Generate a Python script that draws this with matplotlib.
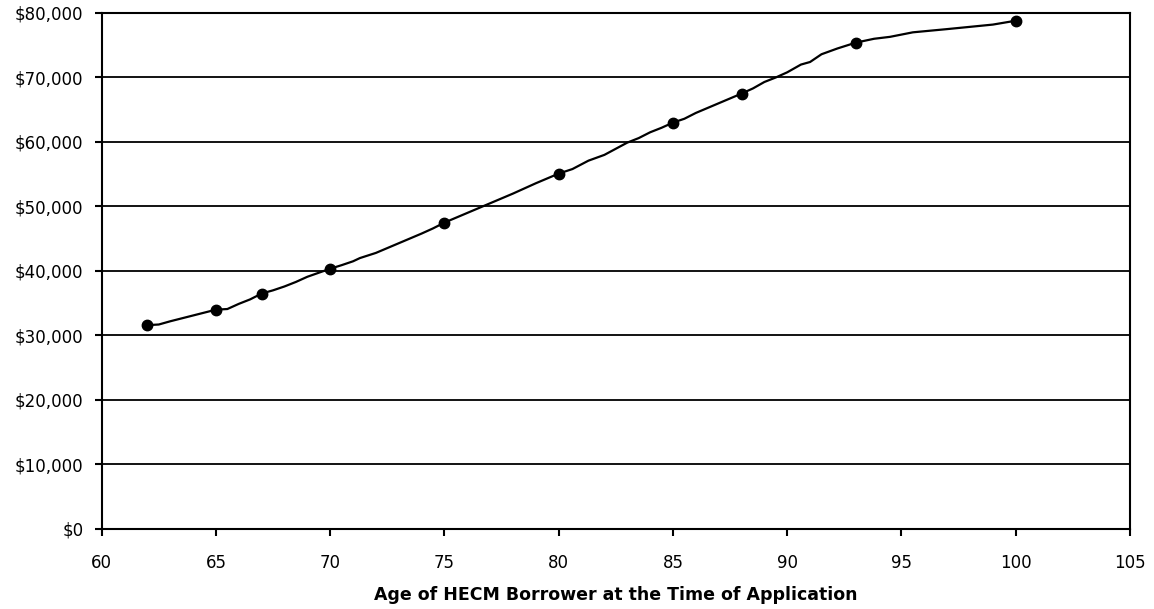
import matplotlib
matplotlib.use("Agg")
import matplotlib.pyplot as plt
from matplotlib.ticker import FuncFormatter, MultipleLocator

# Curve (age, amount)
curve_age = [62, 62.5, 63, 64, 65, 65.5, 66, 66.5, 67, 67.5, 68, 68.5, 69, 70,
             70.5, 71, 71.3, 72, 73, 74, 74.5, 75, 76, 77, 78, 79, 80, 80.6,
             81.3, 82, 83, 83.5, 84, 84.5, 85, 85.5, 86, 87, 88, 88.5, 89,
             89.5, 90, 90.6, 91, 91.5, 92.2, 93, 93.8, 94.5, 95.5, 97, 99, 100]
curve_val = [31600, 31700, 32200, 33100, 34000, 34100, 34900, 35600, 36500,
             37000, 37600, 38300, 39100, 40350, 40900, 41500, 42000, 42800,
             44300, 45800, 46600, 47500, 49000, 50500, 52000, 53600, 55100,
             55800, 57100, 58000, 59900, 60600, 61500, 62200, 63000, 63600,
             64500, 66000, 67500, 68300, 69300, 70000, 70800, 72000, 72400,
             73600, 74500, 75400, 76000, 76300, 77000, 77500, 78200, 78800]

# Marked points
marker_age = [62, 65, 67, 70, 75, 80, 85, 88, 93, 100]
marker_val = [31600, 34000, 36500, 40350, 47500, 55100, 63000, 67500, 75400, 78800]

x_label = "Age of HECM Borrower at the Time of Application"

plt.rcParams['font.family'] = ['DejaVu Sans']

fig = plt.figure(figsize=(11.54, 6.09), dpi=100)
ax = fig.add_axes([0.0881, 0.1314, 0.9792 - 0.0881, 0.9787 - 0.1314])

ax.plot(curve_age, curve_val, color='black', lw=1.6, zorder=3)
ax.plot(marker_age, marker_val, linestyle='none', marker='o', color='black',
        markersize=7.5, zorder=4)

ax.set_xlim(60, 105)
ax.set_ylim(0, 80000)
ax.xaxis.set_major_locator(MultipleLocator(5))
ax.yaxis.set_major_locator(MultipleLocator(10000))
ax.yaxis.set_major_formatter(FuncFormatter(lambda v, p: f"${v:,.0f}"))

ax.grid(axis='y', color='black', lw=1.3)
ax.set_axisbelow(True)
for s in ax.spines.values():
    s.set_color('black')
    s.set_linewidth(1.5)

ax.tick_params(axis='both', direction='out', length=5, width=1.5,
               labelsize=12, colors='black')
ax.tick_params(axis='x', pad=13)
ax.tick_params(axis='y', pad=8)
ax.set_xlabel(x_label, fontsize=12.5, fontweight='bold', labelpad=10)

fig.savefig("out.png", dpi=100)
